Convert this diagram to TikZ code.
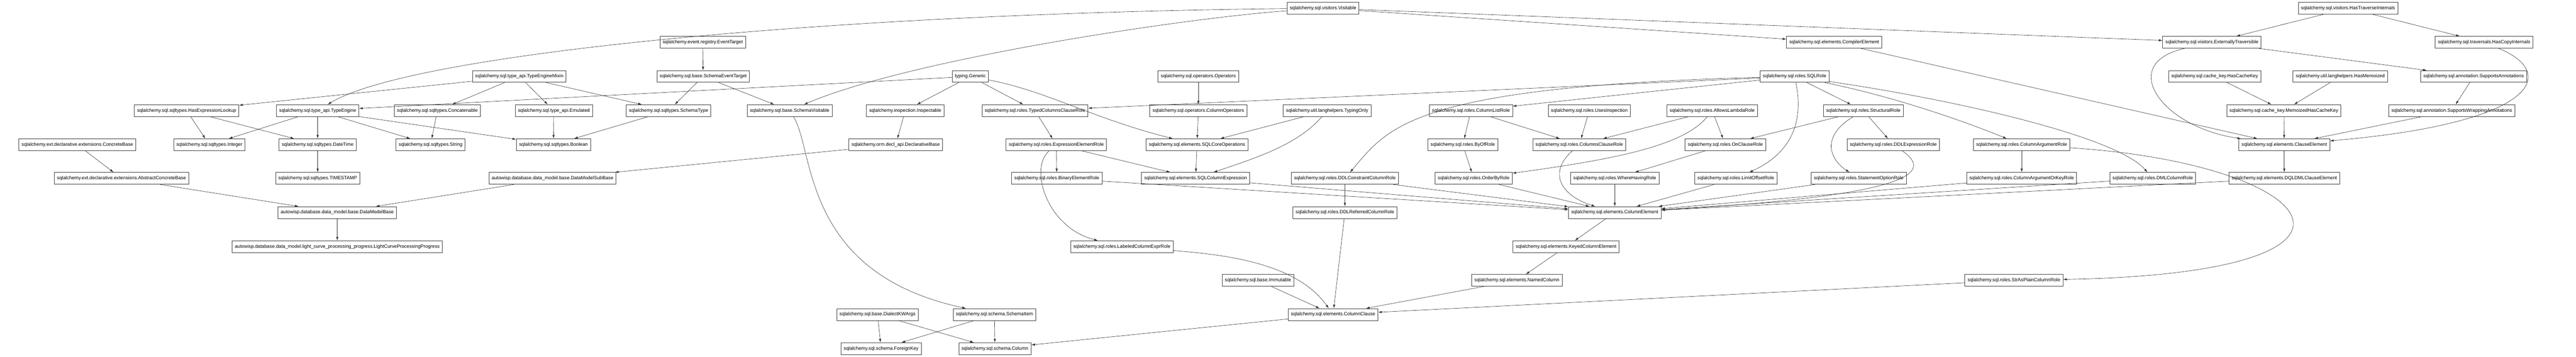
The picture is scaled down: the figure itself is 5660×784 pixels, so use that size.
\documentclass[tikz,border=0pt]{standalone}
\usepackage{fontspec}
\setmainfont{Liberation Sans}
\usetikzlibrary{arrows.meta}
\begin{document}
\begin{tikzpicture}[x=1pt,y=-1pt,
  cls/.style={draw=black!75,line width=0.9pt,fill=white,minimum height=26pt,inner xsep=6pt,inner ysep=0pt,font=\fontsize{10.5}{12}\selectfont},
  inh/.style={-{Latex[length=8pt,width=5pt]},line width=0.7pt,draw=black!80}]
\useasboundingbox (0,0) rectangle (5660,784);
% row 0
\node[cls] (visitable) at (2907,18) {sqlalchemy.sql.visitors.Visitable};
\node[cls] (hasTraverse) at (5159,18) {sqlalchemy.sql.visitors.HasTraverseInternals};
% row 1
\node[cls] (eventTarget) at (1544,93) {sqlalchemy.event.registry.EventTarget};
\node[cls] (compilerElem) at (4030,93) {sqlalchemy.sql.elements.CompilerElement};
\node[cls] (extTraversible) at (4860,93) {sqlalchemy.sql.visitors.ExternallyTraversible};
\node[cls] (hasCopy) at (5458,93) {sqlalchemy.sql.traversals.HasCopyInternals};
% row 2
\node[cls] (typeEngineMixin) at (1141,168) {sqlalchemy.sql.type\_api.TypeEngineMixin};
\node[cls] (schemaEventTarget) at (1545,168) {sqlalchemy.sql.base.SchemaEventTarget};
\node[cls] (generic) at (2132,168) {typing.Generic};
\node[cls] (operators) at (2633,168) {sqlalchemy.sql.operators.Operators};
\node[cls] (sqlRole) at (3943,168) {sqlalchemy.sql.roles.SQLRole};
\node[cls] (hasCacheKey) at (4866,168) {sqlalchemy.sql.cache\_key.HasCacheKey};
\node[cls] (hasMemoized) at (5142,168) {sqlalchemy.util.langhelpers.HasMemoized};
\node[cls] (suppAnnot) at (5435,168) {sqlalchemy.sql.annotation.SupportsAnnotations};
% row 3
\node[cls] (hasExprLookup) at (410,243) {sqlalchemy.sql.sqltypes.HasExpressionLookup};
\node[cls] (typeEngine) at (698,243) {sqlalchemy.sql.type\_api.TypeEngine};
\node[cls] (concatenable) at (961,243) {sqlalchemy.sql.sqltypes.Concatenable};
\node[cls] (emulated) at (1217,243) {sqlalchemy.sql.type\_api.Emulated};
\node[cls] (schemaType) at (1469,243) {sqlalchemy.sql.sqltypes.SchemaType};
\node[cls] (schemaVisitable) at (1735,243) {sqlalchemy.sql.base.SchemaVisitable};
\node[cls] (inspectable) at (1989,243) {sqlalchemy.inspection.Inspectable};
\node[cls] (typedColsRole) at (2274,243) {sqlalchemy.sql.roles.TypedColumnsClauseRole};
\node[cls] (colOperators) at (2633,243) {sqlalchemy.sql.operators.ColumnOperators};
\node[cls] (typingOnly) at (2916,243) {sqlalchemy.util.langhelpers.TypingOnly};
\node[cls] (colListRole) at (3232,243) {sqlalchemy.sql.roles.ColumnListRole};
\node[cls] (usesInspection) at (3492,243) {sqlalchemy.sql.roles.UsesInspection};
\node[cls] (lambdaRole) at (3762,243) {sqlalchemy.sql.roles.AllowsLambdaRole};
\node[cls] (structRole) at (4094,243) {sqlalchemy.sql.roles.StructuralRole};
\node[cls] (memoCacheKey) at (5018,243) {sqlalchemy.sql.cache\_key.MemoizedHasCacheKey};
\node[cls] (suppWrapAnnot) at (5387,243) {sqlalchemy.sql.annotation.SupportsWrappingAnnotations};
% row 4
\node[cls] (concreteBase) at (170,318) {sqlalchemy.ext.declarative.extensions.ConcreteBase};
\node[cls] (integer) at (460,318) {sqlalchemy.sql.sqltypes.Integer};
\node[cls] (dateTime) at (698,318) {sqlalchemy.sql.sqltypes.DateTime};
\node[cls] (string) at (946,318) {sqlalchemy.sql.sqltypes.String};
\node[cls] (boolean) at (1216,318) {sqlalchemy.sql.sqltypes.Boolean};
\node[cls] (declBase) at (1968,318) {sqlalchemy.orm.decl\_api.DeclarativeBase};
\node[cls] (exprElemRole) at (2321,318) {sqlalchemy.sql.roles.ExpressionElementRole};
\node[cls] (coreOps) at (2630,318) {sqlalchemy.sql.elements.SQLCoreOperations};
\node[cls] (byOfRole) at (3214,318) {sqlalchemy.sql.roles.ByOfRole};
\node[cls] (colsClauseRole) at (3470,318) {sqlalchemy.sql.roles.ColumnsClauseRole};
\node[cls] (onClauseRole) at (3791,318) {sqlalchemy.sql.roles.OnClauseRole};
\node[cls] (ddlExprRole) at (4160,318) {sqlalchemy.sql.roles.DDLExpressionRole};
\node[cls] (colArgRole) at (4442,318) {sqlalchemy.sql.roles.ColumnArgumentRole};
\node[cls] (clauseElem) at (5019,318) {sqlalchemy.sql.elements.ClauseElement};
% row 5
\node[cls] (abstractConcrete) at (267,392) {sqlalchemy.ext.declarative.extensions.AbstractConcreteBase};
\node[cls] (timestamp) at (698,392) {sqlalchemy.sql.sqltypes.TIMESTAMP};
\node[cls] (dataModelSub) at (1214,392) {autowisp.database.data\_model.base.DataModelSubBase};
\node[cls] (binElemRole) at (2322,392) {sqlalchemy.sql.roles.BinaryElementRole};
\node[cls] (colExpr) at (2627,392) {sqlalchemy.sql.elements.SQLColumnExpression};
\node[cls] (ddlConstrRole) at (2955,392) {sqlalchemy.sql.roles.DDLConstraintColumnRole};
\node[cls] (orderByRole) at (3238,392) {sqlalchemy.sql.roles.OrderByRole};
\node[cls] (whereRole) at (3548,392) {sqlalchemy.sql.roles.WhereHavingRole};
\node[cls] (limitRole) at (3814,392) {sqlalchemy.sql.roles.LimitOffsetRole};
\node[cls] (stmtOptRole) at (4084,392) {sqlalchemy.sql.roles.StatementOptionRole};
\node[cls] (colArgKeyRole) at (4442,392) {sqlalchemy.sql.roles.ColumnArgumentOrKeyRole};
\node[cls] (dmlColRole) at (4730,392) {sqlalchemy.sql.roles.DMLColumnRole};
\node[cls] (dqlElem) at (5019,392) {sqlalchemy.sql.elements.DQLDMLClauseElement};
% row 6
\node[cls] (dataModelBase) at (741,467) {autowisp.database.data\_model.base.DataModelBase};
\node[cls] (ddlRefRole) at (2955,467) {sqlalchemy.sql.roles.DDLReferredColumnRole};
\node[cls] (colElem) at (3548,467) {sqlalchemy.sql.elements.ColumnElement};
% row 7
\node[cls] (lcProgress) at (741,542) {autowisp.database.data\_model.light\_curve\_processing\_progress.LightCurveProcessingProgress};
\node[cls] (labeledRole) at (2465,542) {sqlalchemy.sql.roles.LabeledColumnExprRole};
\node[cls] (keyedElem) at (3441,542) {sqlalchemy.sql.elements.KeyedColumnElement};
% row 8
\node[cls] (immutable) at (2764,616) {sqlalchemy.sql.base.Immutable};
\node[cls] (namedCol) at (3333,616) {sqlalchemy.sql.elements.NamedColumn};
\node[cls] (strPlainRole) at (4425,616) {sqlalchemy.sql.roles.StrAsPlainColumnRole};
% row 9
\node[cls] (dialectKW) at (1928,691) {sqlalchemy.sql.base.DialectKWArgs};
\node[cls] (schemaItem) at (2185,691) {sqlalchemy.sql.schema.SchemaItem};
\node[cls] (colClause) at (2929,691) {sqlalchemy.sql.elements.ColumnClause};
% row 10
\node[cls] (foreignKey) at (1936,766) {sqlalchemy.sql.schema.ForeignKey};
\node[cls] (column) at (2186,766) {sqlalchemy.sql.schema.Column};

% edges
\draw[inh] (visitable) .. controls (1800,30) and (900,120) .. (typeEngine);
\draw[inh] (visitable) .. controls (2600,40) and (2000,130) .. (schemaVisitable);
\draw[inh] (visitable) -- (compilerElem);
\draw[inh] (visitable) -- (extTraversible);
\draw[inh] (hasTraverse) -- (extTraversible);
\draw[inh] (hasTraverse) -- (hasCopy);
\draw[inh] (eventTarget) -- (schemaEventTarget);
\draw[inh] (schemaEventTarget) -- (schemaType);
\draw[inh] (schemaEventTarget) -- (schemaVisitable);
\draw[inh] (typeEngineMixin) -- (hasExprLookup);
\draw[inh] (typeEngineMixin) -- (concatenable);
\draw[inh] (typeEngineMixin) -- (emulated);
\draw[inh] (typeEngineMixin) -- (schemaType);
\draw[inh] (generic) -- (typeEngine);
\draw[inh] (generic) -- (inspectable);
\draw[inh] (generic) -- (typedColsRole);
\draw[inh] (generic) .. controls (2300,200) and (2400,260) .. (coreOps);
\draw[inh] (hasExprLookup) -- (integer);
\draw[inh] (hasExprLookup) -- (dateTime);
\draw[inh] (typeEngine) -- (integer);
\draw[inh] (typeEngine) -- (dateTime);
\draw[inh] (typeEngine) -- (string);
\draw[inh] (typeEngine) -- (boolean);
\draw[inh] (concatenable) -- (string);
\draw[inh] (emulated) -- (boolean);
\draw[inh] (schemaType) -- (boolean);
\draw[inh] (dateTime) -- (timestamp);
\draw[inh] (concreteBase) -- (abstractConcrete);
\draw[inh] (abstractConcrete) -- (dataModelBase);
\draw[inh] (dataModelSub) -- (dataModelBase);
\draw[inh] (dataModelBase) -- (lcProgress);
\draw[inh] (inspectable) -- (declBase);
\draw[inh] (declBase) -- (dataModelSub);
\draw[inh] (schemaVisitable) .. controls (1790,330) and (1760,600) .. (schemaItem);
\draw[inh] (schemaItem) -- (foreignKey);
\draw[inh] (schemaItem) -- (column);
\draw[inh] (dialectKW) -- (foreignKey);
\draw[inh] (dialectKW) -- (column);
\draw[inh] (colClause) -- (column);
\draw[inh] (operators) -- (colOperators);
\draw[inh] (colOperators) -- (coreOps);
\draw[inh] (typingOnly) -- (coreOps);
\draw[inh] (typingOnly) .. controls (2850,320) and (2750,350) .. (colExpr);
\draw[inh] (sqlRole) -- (typedColsRole);
\draw[inh] (typedColsRole) -- (exprElemRole);
\draw[inh] (exprElemRole) -- (binElemRole);
\draw[inh] (exprElemRole) -- (colExpr);
\draw[inh] (exprElemRole) .. controls (2260,370) and (2300,500) .. (labeledRole);
\draw[inh] (coreOps) -- (colExpr);
\draw[inh] (binElemRole) -- (colElem);
\draw[inh] (colExpr) -- (colElem);
\draw[inh] (labeledRole) .. controls (2700,560) and (2850,580) .. (colClause);
\draw[inh] (immutable) -- (colClause);
\draw[inh] (ddlRefRole) -- (colClause);
\draw[inh] (namedCol) -- (colClause);
\draw[inh] (strPlainRole) -- (colClause);
\draw[inh] (sqlRole) -- (colListRole);
\draw[inh] (sqlRole) .. controls (3100,190) and (3050,280) .. (ddlConstrRole);
\draw[inh] (sqlRole) .. controls (3960,250) and (3950,330) .. (limitRole);
\draw[inh] (sqlRole) -- (structRole);
\draw[inh] (sqlRole) .. controls (4150,210) and (4300,260) .. (colArgRole);
\draw[inh] (sqlRole) .. controls (4300,220) and (4650,300) .. (dmlColRole);
\draw[inh] (ddlConstrRole) -- (ddlRefRole);
\draw[inh] (ddlConstrRole) -- (colElem);
\draw[inh] (colListRole) -- (byOfRole);
\draw[inh] (colListRole) -- (colsClauseRole);
\draw[inh] (usesInspection) -- (colsClauseRole);
\draw[inh] (lambdaRole) -- (colsClauseRole);
\draw[inh] (lambdaRole) -- (onClauseRole);
\draw[inh] (lambdaRole) .. controls (3700,320) and (3550,350) .. (orderByRole);
\draw[inh] (structRole) -- (onClauseRole);
\draw[inh] (structRole) -- (ddlExprRole);
\draw[inh] (structRole) .. controls (4000,300) and (4020,350) .. (stmtOptRole);
\draw[inh] (byOfRole) -- (orderByRole);
\draw[inh] (colsClauseRole) .. controls (3400,380) and (3430,430) .. (colElem);
\draw[inh] (onClauseRole) -- (whereRole);
\draw[inh] (orderByRole) -- (colElem);
\draw[inh] (whereRole) -- (colElem);
\draw[inh] (limitRole) -- (colElem);
\draw[inh] (stmtOptRole) -- (colElem);
\draw[inh] (ddlExprRole) .. controls (4250,380) and (4200,430) .. (colElem);
\draw[inh] (colArgKeyRole) -- (colElem);
\draw[inh] (dmlColRole) -- (colElem);
\draw[inh] (dqlElem) -- (colElem);
\draw[inh] (colArgRole) -- (colArgKeyRole);
\draw[inh] (colArgRole) .. controls (5100,360) and (5300,600) .. (strPlainRole);
\draw[inh] (colElem) -- (keyedElem);
\draw[inh] (keyedElem) -- (namedCol);
\draw[inh] (compilerElem) -- (clauseElem);
\draw[inh] (extTraversible) .. controls (4650,140) and (4750,280) .. (clauseElem);
\draw[inh] (extTraversible) -- (suppAnnot);
\draw[inh] (hasCopy) .. controls (5620,160) and (5580,270) .. (clauseElem);
\draw[inh] (hasCacheKey) -- (memoCacheKey);
\draw[inh] (hasMemoized) -- (memoCacheKey);
\draw[inh] (memoCacheKey) -- (clauseElem);
\draw[inh] (suppAnnot) -- (suppWrapAnnot);
\draw[inh] (suppWrapAnnot) -- (clauseElem);
\draw[inh] (clauseElem) -- (dqlElem);
\end{tikzpicture}
\end{document}
